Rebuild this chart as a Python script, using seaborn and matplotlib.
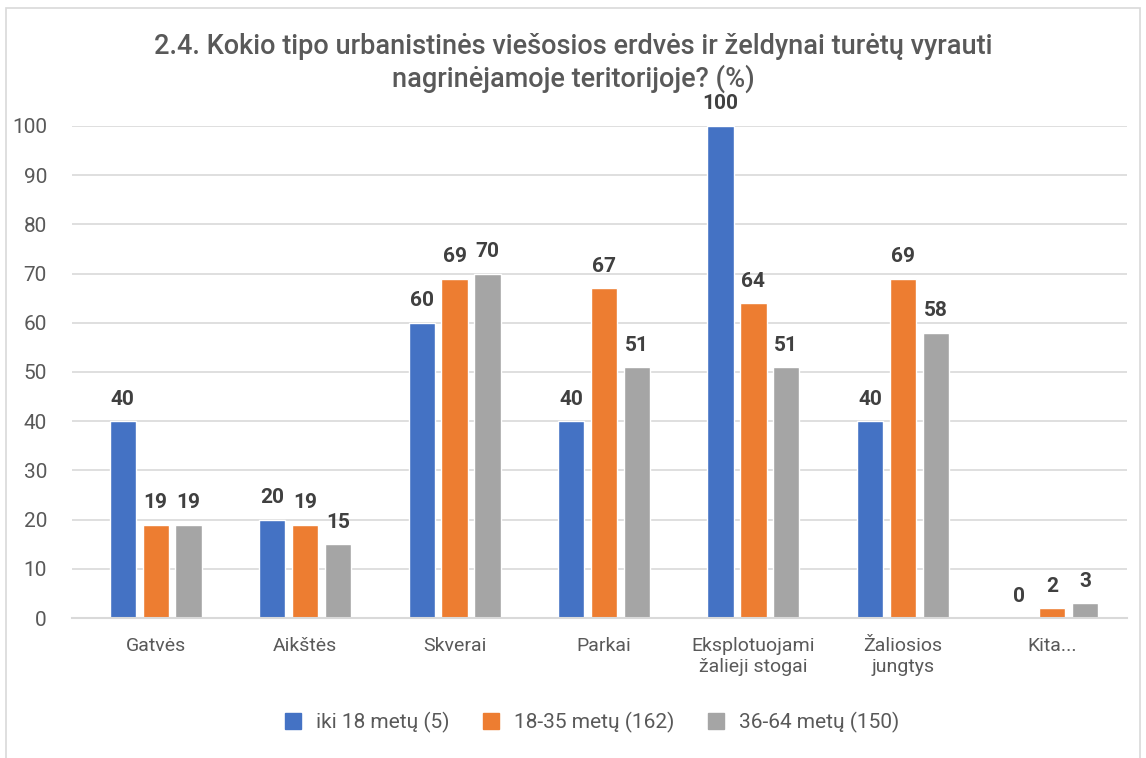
import pandas as pd
import matplotlib
matplotlib.use('Agg')
import matplotlib.pyplot as plt
import seaborn as sns
from matplotlib.patches import Rectangle
from matplotlib.lines import Line2D

# chart values
categories = ["Gatvės", "Aikštės", "Skverai", "Parkai",
              "Eksplotuojami\nžalieji stogai", "Žaliosios\njungtys", "Kita..."]
groups = ["iki 18 metų (5)", "18-35 metų (162)", "36-64 metų (150)"]
under_18 = [40, 20, 60, 40, 100, 40, 0]
age_18_35 = [19, 19, 69, 67, 64, 69, 2]
age_36_64 = [19, 15, 70, 51, 51, 58, 3]
colors = ["#4472C4", "#ED7D31", "#A5A5A5"]

TITLE = "2.4. Kokio tipo urbanistinės viešosios erdvės ir želdynai turėtų vyrauti\nnagrinėjamoje teritorijoje? (%)"

rows = []
for g, vals in zip(groups, [under_18, age_18_35, age_36_64]):
    for c, v in zip(categories, vals):
        rows.append({"Kategorija": c, "Grupe": g, "Reiksme": v})
df = pd.DataFrame(rows)

sns.set_theme(style="white")
plt.rcParams['font.family'] = ['Roboto', 'DejaVu Sans']
text_gray = "#595959"
grid_gray = "#D9D9D9"

fig = plt.figure(figsize=(11.46, 7.58), dpi=100, facecolor='white')
ax = fig.add_axes([72 / 1146, 1 - 618 / 758, (1127 - 72) / 1146, (618 - 126) / 758])

sns.barplot(data=df, x="Kategorija", y="Reiksme", hue="Grupe", order=categories,
            hue_order=groups, palette=colors, width=0.66, gap=0.2, saturation=1,
            ax=ax, legend=False)

ax.set_ylim(0, 100)
ax.set_xlim(-0.56, 6.5)
ax.set_yticks(range(0, 101, 10))
ax.yaxis.grid(True, color=grid_gray, linewidth=1.2)
ax.set_axisbelow(True)
for s in ["top", "right", "left"]:
    ax.spines[s].set_visible(False)
ax.spines["bottom"].set_color(grid_gray)
ax.spines["bottom"].set_linewidth(1.5)
ax.tick_params(axis='y', length=0, pad=18, labelsize=15, labelcolor=text_gray)
ax.tick_params(axis='x', length=0, pad=14, labelsize=14, labelcolor=text_gray)
ax.set_xlabel("")
ax.set_ylabel("")

for cont in ax.containers:
    ax.bar_label(cont, labels=[f"{v:.0f}" for v in cont.datavalues], padding=9,
                 fontsize=15, fontweight='bold', color="#404040", clip_on=False)

fig.text(0.5, 1 - 33 / 758, TITLE, ha='center', va='top', fontsize=19.5,
         fontweight='medium', color=text_gray, linespacing=1.22)

handles = [Line2D([0], [0], marker='s', linestyle='', markersize=12,
                  markerfacecolor=c, markeredgecolor=c) for c in colors]
fig.legend(handles, groups, loc='center', bbox_to_anchor=(586 / 1146, 1 - 722 / 758),
           ncol=3, frameon=False, fontsize=15, labelcolor=text_gray,
           handletextpad=0.1, columnspacing=1.0)

fig.patches.append(Rectangle((6 / 1146, -0.01), 1134 / 1146, 1 - 8 / 758 + 0.01,
                             transform=fig.transFigure, fill=False,
                             edgecolor=grid_gray, linewidth=1.2))

fig.savefig("out.png", dpi=100, facecolor='white')
